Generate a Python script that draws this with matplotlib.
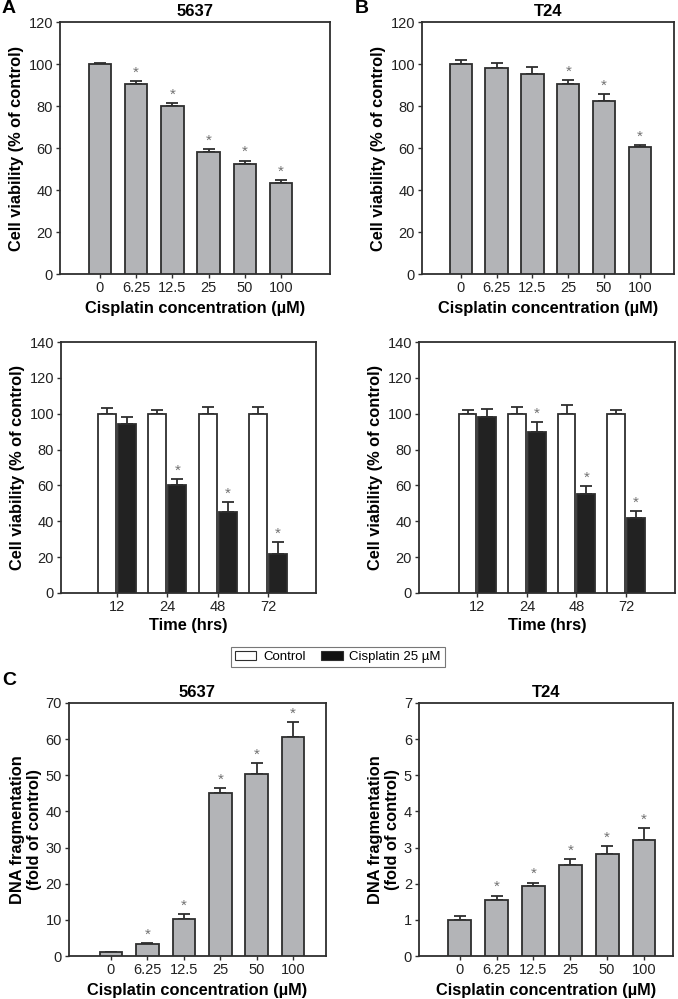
import matplotlib
matplotlib.use("Agg")
import matplotlib.pyplot as plt
from matplotlib.patches import Patch
import numpy as np

plt.rcParams['font.family'] = ['Liberation Sans', 'DejaVu Sans']

# ---------------- data ----------------
conc_labels = ["0", "6.25", "12.5", "25", "50", "100"]
time_labels = ["12", "24", "48", "72"]

via_5637 = [100, 90.5, 80.2, 58.0, 52.3, 43.5]
via_5637_err = [0.5, 1.2, 1.2, 1.3, 1.7, 1.2]
via_5637_sig = [False, True, True, True, True, True]

via_t24 = [100, 98.3, 95.3, 90.4, 82.3, 60.3]
via_t24_err = [2.0, 2.0, 3.5, 2.0, 3.2, 1.2]
via_t24_sig = [False, False, False, True, True, True]

time_5637_ctrl = [100, 100, 100, 100]
time_5637_ctrl_err = [3.0, 2.0, 3.5, 4.0]
time_5637_cis = [94.5, 60.0, 45.0, 22.0]
time_5637_cis_err = [3.5, 3.5, 5.5, 6.5]
time_5637_sig = [False, True, True, True]

time_t24_ctrl = [100, 100, 100, 100]
time_t24_ctrl_err = [2.0, 4.0, 5.0, 2.0]
time_t24_cis = [98.0, 90.0, 55.0, 42.0]
time_t24_cis_err = [4.5, 5.5, 4.5, 3.5]
time_t24_sig = [False, True, True, True]

dna_5637 = [1.0, 3.2, 10.3, 45.2, 50.3, 60.7]
dna_5637_err = [0.15, 0.3, 1.2, 1.2, 3.0, 4.0]
dna_5637_sig = [False, True, True, True, True, True]

dna_t24 = [1.0, 1.55, 1.93, 2.52, 2.83, 3.22]
dna_t24_err = [0.12, 0.12, 0.1, 0.15, 0.2, 0.32]
dna_t24_sig = [False, True, True, True, True, True]

# ---------------- style ----------------
W, H = 678, 999
GRAY = "#b3b4b7"
EDGE = "#2e2e2e"
STAR = "#707070"
TICK_FS = 10.5
LAB_FS = 11.8
TITLE_FS = 12

fig = plt.figure(figsize=(W / 100, H / 100), dpi=100)


def make_ax(l, r, t, b):
    ax = fig.add_axes([l / W, (H - b) / H, (r - l) / W, (b - t) / H])
    for s in ax.spines.values():
        s.set_color(EDGE)
        s.set_linewidth(1.3)
    ax.tick_params(axis='both', direction='out', length=3, width=1.0,
                   color=EDGE, labelsize=TICK_FS, labelcolor="#222222", pad=2)
    return ax


def star(ax, x, y):
    ax.annotate("*", xy=(x, y), xytext=(0, 1), textcoords="offset points",
                ha="center", va="bottom", fontsize=11, color=STAR)


def single_panel(ax, vals, errs, sig, ymax, ystep, xlim, ylabel, title=None):
    x = np.arange(len(vals))
    ax.bar(x, vals, width=0.62, color=GRAY, edgecolor=EDGE, linewidth=1.3, zorder=3)
    ax.errorbar(x, vals, yerr=[np.zeros(len(errs)), errs], fmt='none',
                ecolor=EDGE, elinewidth=1.3, capsize=4.5, capthick=1.3, zorder=2)
    for xi, v, e, s in zip(x, vals, errs, sig):
        if s:
            star(ax, xi, v + e)
    ax.set_xlim(*xlim)
    ax.set_ylim(0, ymax)
    ax.set_yticks(np.arange(0, ymax + ystep / 2, ystep))
    ax.set_xticks(x)
    ax.set_xticklabels(conc_labels)
    ax.set_xlabel("Cisplatin concentration (\u00b5M)", fontsize=LAB_FS,
                  fontweight='bold', labelpad=4)
    ax.set_ylabel(ylabel, fontsize=LAB_FS, fontweight='bold', labelpad=3)
    if title:
        ax.set_title(title, fontsize=TITLE_FS, fontweight='bold', pad=4)


def time_panel(ax, ctrl, ctrl_err, cis, cis_err, sig, xlim):
    x = np.arange(len(ctrl))
    off = 0.2
    w = 0.36
    ax.bar(x - off, ctrl, width=w, color="white", edgecolor=EDGE, linewidth=1.3, zorder=3)
    ax.bar(x + off, cis, width=w, color="#222222", edgecolor=EDGE, linewidth=1.3, zorder=3)
    ax.errorbar(x - off, ctrl, yerr=[np.zeros(len(ctrl)), ctrl_err], fmt='none',
                ecolor=EDGE, elinewidth=1.3, capsize=4, capthick=1.3, zorder=2)
    ax.errorbar(x + off, cis, yerr=[np.zeros(len(cis)), cis_err], fmt='none',
                ecolor=EDGE, elinewidth=1.3, capsize=4, capthick=1.3, zorder=2)
    for xi, v, e, s in zip(x, cis, cis_err, sig):
        if s:
            star(ax, xi + off, v + e)
    ax.set_xlim(*xlim)
    ax.set_ylim(0, 140)
    ax.set_yticks(np.arange(0, 141, 20))
    ax.set_xticks(x)
    ax.set_xticklabels(time_labels)
    ax.set_xlabel("Time (hrs)", fontsize=LAB_FS, fontweight='bold', labelpad=3)
    ax.set_ylabel("Cell viability (% of control)", fontsize=LAB_FS,
                  fontweight='bold', labelpad=3)


# Row A/B
axA = make_ax(60, 330, 22, 274)
single_panel(axA, via_5637, via_5637_err, via_5637_sig, 120, 20, (-1.1, 6.35),
             "Cell viability (% of control)", "5637")
axB = make_ax(422, 674, 22, 274)
single_panel(axB, via_t24, via_t24_err, via_t24_sig, 120, 20, (-1.08, 5.95),
             "Cell viability (% of control)", "T24")

# Middle row
axM1 = make_ax(61, 316, 342, 593)
time_panel(axM1, time_5637_ctrl, time_5637_ctrl_err, time_5637_cis,
           time_5637_cis_err, time_5637_sig, (-1.11, 3.95))
axM2 = make_ax(419, 675, 342, 593)
time_panel(axM2, time_t24_ctrl, time_t24_ctrl_err, time_t24_cis,
           time_t24_cis_err, time_t24_sig, (-1.18, 3.99))

# Bottom row
axC1 = make_ax(69, 326, 703, 956)
single_panel(axC1, dna_5637, dna_5637_err, dna_5637_sig, 70, 10, (-1.15, 5.9),
             "DNA fragmentation\n(fold of control)", "5637")
axC2 = make_ax(419, 673, 703, 956)
single_panel(axC2, dna_t24, dna_t24_err, dna_t24_sig, 7, 1, (-1.11, 5.79),
             "DNA fragmentation\n(fold of control)", "T24")
for ax in (axC1, axC2):
    ax.yaxis.label.set_linespacing(1.1)

# Legend
handles = [Patch(facecolor="white", edgecolor=EDGE, linewidth=0.8, label="Control"),
           Patch(facecolor="#111111", edgecolor=EDGE, linewidth=0.8, label="Cisplatin 25 \u00b5M")]
leg = fig.legend(handles=handles, loc="center", bbox_to_anchor=(338 / W, (H - 657) / H),
                 ncol=2, frameon=True, fancybox=False, fontsize=9.5,
                 handlelength=1.6, handleheight=0.7, handletextpad=0.5,
                 columnspacing=1.2, borderpad=0.3, edgecolor="#555555")
leg.get_frame().set_linewidth(0.8)

# Panel letters
fig.text(2 / W, 1 - 0 / H, "A", fontsize=14, fontweight='bold', va='top', ha='left')
fig.text(355 / W, 1 - 0 / H, "B", fontsize=14, fontweight='bold', va='top', ha='left')
fig.text(2 / W, 1 - 672 / H, "C", fontsize=14, fontweight='bold', va='top', ha='left')

fig.savefig("out.png", dpi=100)
